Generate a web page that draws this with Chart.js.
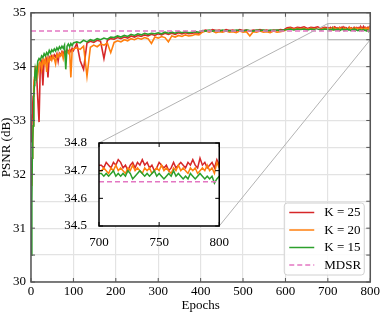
<!DOCTYPE html>
<html>
<head>
<meta charset="utf-8">
<script src="https://cdn.jsdelivr.net/npm/chart.js@4.4.0/dist/chart.umd.min.js"></script>
<style>
  html, body { margin: 0; padding: 0; background: #fff; }
  #wrap { position: relative; width: 382px; height: 312px; }
  #main { position: absolute; left: 0; top: 0; }
  #inset { position: absolute; left: 50px; top: 130px; }
</style>
</head>
<body>
<div id="wrap">
  <canvas id="main" width="382" height="312"></canvas>
  <canvas id="inset" width="180" height="116"></canvas>
</div>
<script>
// training epochs (denser at the start and in the zoomed tail)
const epochs = [
  1, 2, 3, 4, 5, 6, 7, 8, 9, 10,
  13, 16, 19, 22, 25, 28, 31, 34, 37, 40, 43, 46, 49, 52, 55, 58, 61, 64, 67, 70,
  73, 76, 79, 82, 85, 88, 91, 94, 97, 100,
  108, 116, 124, 132, 140, 148, 156, 164, 172, 180, 188, 196, 204, 212, 220, 228, 236, 244, 252, 260,
  268, 276, 284, 292, 300, 308, 316, 324, 332, 340, 348, 356, 364, 372, 380, 388, 396, 404, 412, 420,
  428, 436, 444, 452, 460, 468, 476, 484, 492, 500, 508, 516, 524, 532, 540, 548, 556, 564, 572, 580,
  588, 596, 604, 612, 620, 628, 636, 644, 652, 660, 668, 676, 684, 692, 700,
  702, 704, 706, 708, 710, 712, 714, 716, 718, 720,
  722, 724, 726, 728, 730, 732, 734, 736, 738, 740,
  742, 744, 746, 748, 750, 752, 754, 756, 758, 760,
  762, 764, 766, 768, 770, 772, 774, 776, 778, 780,
  782, 784, 786, 788, 790, 792, 794, 796, 798, 800
];

const k25 = [
  32.60, 32.90, 33.10, 33.30, 33.45, 33.60, 33.65, 33.75, 33.85, 33.90,
  33.90, 33.40, 32.97, 34.05, 34.10, 33.65, 34.12, 34.08, 34.15, 33.80, 34.18, 34.14, 34.20, 34.16, 34.22, 34.18, 34.24, 34.10, 34.25, 34.22,
  34.28, 34.24, 34.30, 34.26, 34.31, 34.27, 34.32, 34.28, 34.34, 34.30,
  34.43, 34.11, 33.95, 34.44, 34.47, 34.45, 34.49, 34.47, 34.15, 34.49, 34.52, 34.51, 34.54, 34.52, 34.55, 34.53, 34.57, 34.55, 34.58, 34.56,
  34.59, 34.57, 34.60, 34.58, 34.61, 34.59, 34.62, 34.60, 34.62, 34.60, 34.63, 34.61, 34.63, 34.61, 34.62, 34.63, 34.62, 34.66, 34.68, 34.66,
  34.69, 34.67, 34.68, 34.66, 34.69, 34.67, 34.68, 34.66, 34.69, 34.67, 34.68, 34.66, 34.68, 34.67, 34.69, 34.67, 34.68, 34.66, 34.68, 34.67,
  34.69, 34.68, 34.72, 34.73, 34.71, 34.73, 34.72, 34.74, 34.71, 34.73, 34.72, 34.74, 34.71, 34.73, 34.72,
  34.72, 34.71, 34.73, 34.72, 34.71, 34.73, 34.72, 34.74, 34.73, 34.71,
  34.72, 34.70, 34.72, 34.73, 34.71, 34.73, 34.72, 34.74, 34.72, 34.73,
  34.71, 34.72, 34.70, 34.71, 34.73, 34.72, 34.71, 34.72, 34.70, 34.71,
  34.73, 34.71, 34.72, 34.73, 34.72, 34.71, 34.73, 34.72, 34.74, 34.72,
  34.71, 34.745, 34.72, 34.73, 34.71, 34.72, 34.73, 34.71, 34.74, 34.72
];

const k20 = [
  31.80, 32.10, 32.30, 32.50, 32.90, 33.30, 33.60, 33.80, 33.90, 34.00,
  34.00, 33.85, 34.05, 34.10, 33.95, 34.12, 34.05, 34.15, 33.90, 34.15, 34.10, 34.18, 34.12, 34.20, 34.15, 34.05, 34.22, 34.18, 34.24, 34.20,
  34.26, 34.15, 34.27, 34.23, 34.29, 34.25, 34.30, 33.80, 34.30, 34.33,
  34.35, 34.32, 34.38, 33.82, 34.36, 34.40, 34.37, 34.42, 34.40, 34.44, 34.26, 34.45, 34.48, 34.46, 34.50, 34.48, 34.52, 34.50, 34.53, 34.51,
  34.54, 34.52, 34.43, 34.55, 34.53, 34.56, 34.54, 34.46, 34.57, 34.55, 34.58, 34.56, 34.59, 34.57, 34.58, 34.60, 34.59, 34.64, 34.66, 34.64,
  34.66, 34.63, 34.65, 34.64, 34.66, 34.64, 34.65, 34.63, 34.66, 34.64, 34.65, 34.57, 34.65, 34.64, 34.66, 34.64, 34.65, 34.63, 34.66, 34.64,
  34.65, 34.66, 34.70, 34.71, 34.69, 34.71, 34.70, 34.71, 34.69, 34.71, 34.70, 34.71, 34.69, 34.71, 34.70,
  34.70, 34.71, 34.70, 34.69, 34.71, 34.70, 34.72, 34.70, 34.71, 34.70,
  34.69, 34.71, 34.70, 34.72, 34.70, 34.71, 34.70, 34.69, 34.71, 34.70,
  34.71, 34.69, 34.70, 34.71, 34.70, 34.72, 34.70, 34.71, 34.70, 34.69,
  34.71, 34.70, 34.72, 34.70, 34.71, 34.70, 34.69, 34.71, 34.70, 34.71,
  34.69, 34.70, 34.71, 34.70, 34.72, 34.70, 34.71, 34.69, 34.73, 34.71
];

const k15 = [
  30.50, 31.50, 32.30, 32.60, 32.90, 33.20, 33.45, 33.65, 33.85, 33.95,
  33.80, 34.10, 34.15, 34.12, 34.20, 34.17, 34.24, 34.20, 34.26, 34.22, 34.30, 34.25, 34.31, 34.28, 34.33, 34.29, 34.35, 34.31, 34.37, 34.33,
  34.38, 34.34, 34.40, 33.95, 34.38, 34.42, 34.37, 34.43, 34.39, 34.44,
  34.46, 34.44, 34.49, 34.46, 34.50, 34.48, 34.52, 34.50, 34.53, 34.51, 34.55, 34.54, 34.57, 34.55, 34.58, 34.56, 34.60, 34.58, 34.61, 34.59,
  34.62, 34.60, 34.62, 34.61, 34.63, 34.61, 34.64, 34.62, 34.64, 34.62, 34.65, 34.63, 34.65, 34.63, 34.64, 34.65, 34.64, 34.67, 34.66, 34.68,
  34.66, 34.67, 34.66, 34.68, 34.66, 34.67, 34.66, 34.68, 34.67, 34.66, 34.68, 34.67, 34.66, 34.68, 34.67, 34.68, 34.66, 34.68, 34.67, 34.68,
  34.67, 34.68, 34.69, 34.70, 34.68, 34.70, 34.69, 34.70, 34.68, 34.70, 34.69, 34.70, 34.68, 34.70, 34.69,
  34.69, 34.68, 34.69, 34.68, 34.69, 34.70, 34.68, 34.69, 34.68, 34.69,
  34.68, 34.70, 34.69, 34.67, 34.68, 34.69, 34.70, 34.69, 34.68, 34.69,
  34.68, 34.69, 34.70, 34.68, 34.69, 34.68, 34.67, 34.68, 34.69, 34.68,
  34.70, 34.68, 34.69, 34.68, 34.67, 34.68, 34.67, 34.69, 34.68, 34.67,
  34.68, 34.69, 34.68, 34.67, 34.68, 34.67, 34.68, 34.655, 34.67, 34.68
];

const mdsr = 34.66;
const xRange = [0, 800];
const yRange = [30, 35];
const zoomX = [700, 800];
const zoomY = [34.5, 34.8];

const serif = "'Times New Roman', 'Liberation Serif', serif";
Chart.defaults.font.family = serif;
Chart.defaults.font.size = 13;
Chart.defaults.color = '#000';

function series(vals, x0, x1) {
    return epochs.map((e, i) => ({ x: e, y: vals[i] })).filter(p => p.x >= x0 && p.x <= x1);
}

function makeDatasets(x0, x1, w) {
    return [
        { label: 'K = 25', data: series(k25, x0, x1), borderColor: '#d62728', borderWidth: w, order: 3 },
        { label: 'K = 20', data: series(k20, x0, x1), borderColor: '#ff7f0e', borderWidth: w, order: 2 },
        { label: 'K = 15', data: series(k15, x0, x1), borderColor: '#2ca02c', borderWidth: w, order: 1 },
        { label: 'MDSR', data: [{ x: x0, y: mdsr }, { x: x1, y: mdsr }], borderColor: '#e377c2', borderWidth: 1.5, borderDash: [5, 3], order: 0 }
    ].map(d => Object.assign({ pointRadius: 0, fill: false, tension: 0 }, d));
}

// frame + inward tick marks on all four sides
function frameTicks(color, width) {
    return {
        id: 'frameTicks',
        afterDraw(chart) {
            const { ctx, chartArea: a, scales: { x, y } } = chart;
            ctx.save();
            ctx.strokeStyle = color;
            ctx.lineWidth = 1;
            ctx.beginPath();
            x.ticks.forEach(t => {
                const px = x.getPixelForValue(t.value);
                ctx.moveTo(px, a.bottom); ctx.lineTo(px, a.bottom - 4);
                ctx.moveTo(px, a.top); ctx.lineTo(px, a.top + 4);
            });
            y.ticks.forEach(t => {
                const py = y.getPixelForValue(t.value);
                ctx.moveTo(a.left, py); ctx.lineTo(a.left + 4, py);
                ctx.moveTo(a.right, py); ctx.lineTo(a.right - 4, py);
            });
            ctx.stroke();
            ctx.lineWidth = width;
            ctx.strokeRect(a.left, a.top, a.right - a.left, a.bottom - a.top);
            ctx.restore();
        }
    };
}

const insetCanvas = document.getElementById('inset');
const insetChart = new Chart(insetCanvas.getContext('2d'), {
    type: 'line',
    data: { datasets: makeDatasets(zoomX[0], zoomX[1], 1.5) },
    options: {
        responsive: false,
        animation: false,
        devicePixelRatio: 1,
        layout: { padding: { top: 13, right: 8, left: 0, bottom: 0 } },
        plugins: { legend: { display: false }, tooltip: { enabled: false } },
        scales: {
            x: {
                type: 'linear', min: zoomX[0], max: zoomX[1],
                ticks: { stepSize: 50, padding: 1, maxRotation: 0 },
                grid: { display: false },
                border: { display: false },
                afterFit: s => { s.height = 20; }
            },
            y: {
                min: zoomY[0], max: zoomY[1],
                ticks: { stepSize: 0.1, padding: 4, callback: v => v.toFixed(1) },
                grid: { display: false },
                border: { display: false },
                afterFit: s => { s.width = 49; }
            }
        }
    },
    plugins: [{
        id: 'whiteArea',
        beforeDraw(chart) {
            const a = chart.chartArea;
            chart.ctx.save();
            chart.ctx.fillStyle = '#fff';
            chart.ctx.fillRect(a.left, a.top, a.right - a.left, a.bottom - a.top);
            chart.ctx.restore();
        }
    }, frameTicks('#000', 1.5)]
});

const zoomLines = {
    id: 'zoomLines',
    afterDatasetsDraw(chart) {
        const { ctx, scales: { x, y } } = chart;
        const bx0 = x.getPixelForValue(zoomX[0]), bx1 = x.getPixelForValue(zoomX[1]);
        const by0 = y.getPixelForValue(zoomY[1]), by1 = y.getPixelForValue(zoomY[0]);
        const ia = insetChart.chartArea;
        const ox = insetCanvas.offsetLeft, oy = insetCanvas.offsetTop;
        ctx.save();
        ctx.strokeStyle = '#b3b3b3';
        ctx.lineWidth = 1;
        ctx.strokeRect(bx0, by0, bx1 - bx0, by1 - by0);
        ctx.beginPath();
        ctx.moveTo(bx0, by0); ctx.lineTo(ox + ia.left, oy + ia.top);
        ctx.moveTo(bx1, by1); ctx.lineTo(ox + ia.right, oy + ia.bottom);
        ctx.stroke();
        ctx.restore();
    }
};

const boxLegend = {
    id: 'boxLegend',
    afterDraw(chart) {
        const { ctx, chartArea: a } = chart;
        const w = 80, h = 72;
        const left = a.right - 6 - w, top = a.bottom - 7 - h;
        ctx.save();
        ctx.fillStyle = 'rgba(255,255,255,0.85)';
        ctx.strokeStyle = '#d0d0d0';
        ctx.lineWidth = 1;
        ctx.beginPath();
        ctx.roundRect(left, top, w, h, 3);
        ctx.fill();
        ctx.stroke();
        ctx.font = '13px ' + serif;
        ctx.textBaseline = 'middle';
        chart.data.datasets.forEach((d, i) => {
            const yy = top + 9.5 + i * 17.5;
            ctx.strokeStyle = d.borderColor;
            ctx.lineWidth = 1.5;
            ctx.setLineDash(d.borderDash || []);
            ctx.beginPath();
            ctx.moveTo(left + 5, yy);
            ctx.lineTo(left + 30, yy);
            ctx.stroke();
            ctx.setLineDash([]);
            ctx.fillStyle = '#000';
            ctx.fillText(d.label, left + 40, yy + 0.5);
        });
        ctx.restore();
    }
};

new Chart(document.getElementById('main').getContext('2d'), {
    type: 'line',
    data: { datasets: makeDatasets(xRange[0], xRange[1], 1.6) },
    options: {
        responsive: false,
        animation: false,
        devicePixelRatio: 1,
        layout: { padding: { top: 5, right: 9, left: 0, bottom: 0 } },
        plugins: { legend: { display: false }, tooltip: { enabled: false } },
        scales: {
            x: {
                type: 'linear', min: xRange[0], max: xRange[1],
                ticks: { stepSize: 100, padding: 2, maxRotation: 0 },
                grid: { color: '#e3e3e3', lineWidth: 1.2, drawTicks: false },
                border: { display: false },
                title: { display: true, text: 'Epochs', padding: 0, font: { size: 13, lineHeight: 1 } },
                afterFit: s => { s.height = 30; }
            },
            y: {
                min: yRange[0], max: yRange[1],
                ticks: { stepSize: 0.5, padding: 5, autoSkip: false, callback: v => Number.isInteger(v) ? v : '' },
                grid: { color: '#e3e3e3', lineWidth: 1.2, drawTicks: false },
                border: { display: false },
                title: { display: true, text: 'PSNR (dB)', padding: 0, font: { size: 13, lineHeight: 1 } },
                afterFit: s => { s.width = 31; }
            }
        }
    },
    plugins: [zoomLines, frameTicks('#555', 1.5), boxLegend]
});
</script>
</body>
</html>
